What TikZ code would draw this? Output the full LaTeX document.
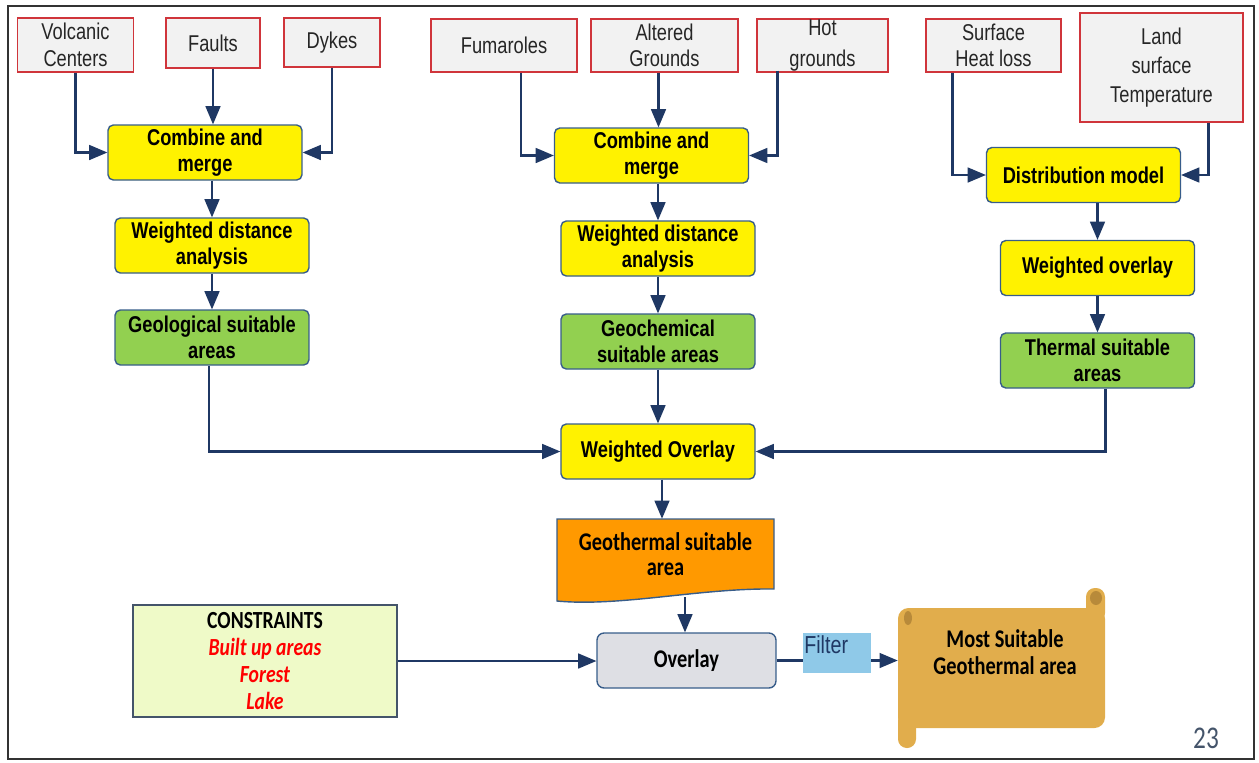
\documentclass[tikz,border=0pt]{standalone}
\usepackage{fontspec}
\setmainfont{Liberation Sans}[FakeStretch=0.8]
\newfontfamily\calib{Carlito}[FakeStretch=0.8]
\usetikzlibrary{arrows,positioning,calc}
\definecolor{navy}{HTML}{1F3864}
\definecolor{boxred}{HTML}{D0353B}
\definecolor{boxgray}{HTML}{F2F2F2}
\definecolor{edgeblue}{HTML}{385D8A}
\definecolor{leafgreen}{HTML}{92D050}
\definecolor{orangec}{HTML}{FF9900}
\definecolor{ovgray}{HTML}{DEDFE4}
\definecolor{consfill}{HTML}{EFFAC8}
\definecolor{slate}{HTML}{44546A}
\definecolor{filterblue}{HTML}{8FC9E8}
\definecolor{scrollc}{HTML}{E1AD4C}
\definecolor{scrolldark}{HTML}{B88A3A}

\begin{document}
\begin{tikzpicture}[x=0.02cm,y=-0.02cm,
  inbox/.style={draw=boxred, fill=boxgray, line width=0.8pt, align=center, inner sep=0pt,
    text=black!85, font=\fontsize{13}{15}\selectfont},
  ybox/.style={draw=edgeblue, fill=yellow, rounded corners=3pt, line width=0.8pt, align=center,
    inner sep=0pt, minimum width=3.88cm, minimum height=1.1cm, font=\fontsize{13}{15}\selectfont\bfseries},
  gbox/.style={ybox, fill=leafgreen},
  flow/.style={navy, line width=1.4pt, -triangle 45},
  wire/.style={navy, line width=1.4pt}]
\useasboundingbox (0,0) rectangle (1259,762);
\draw[line width=1.2pt, black!80] (8,6) rectangle (1254,759);

% input layers
\node[inbox, minimum width=2.32cm, minimum height=1.08cm] (vc) at (75.5,45) {Volcanic\\Centers};
\node[inbox, minimum width=1.88cm, minimum height=1cm] (faults) at (213,43) {Faults};
\node[inbox, minimum width=1.92cm, minimum height=0.98cm] (dyk) at (332,42.5) {Dykes};
\node[inbox, minimum width=2.92cm, minimum height=1.06cm] (fum) at (504,45.5) {Fumaroles};
\node[inbox, minimum width=2.94cm, minimum height=1.06cm] (alt) at (664.5,45.5) {Altered\\Grounds};
\node[inbox, minimum width=2.62cm, minimum height=1.06cm, font=\fontsize{13}{17.5}\selectfont] (hot) at (822.5,45.5) {Hot\\grounds};
\node[inbox, minimum width=2.7cm, minimum height=1.06cm] (shl) at (993.5,45.5) {Surface\\Heat loss};
\node[inbox, minimum width=3.26cm, minimum height=2.18cm, font=\fontsize{13}{16.5}\selectfont] (lst) at (1161.5,67.5) {Land\\surface\\Temperature};

% processing chains
\node[ybox] (c1) at (205,152.5) {Combine and\\merge};
\node[ybox] (w1) at (212,245.5) {Weighted distance\\analysis};
\node[gbox] (g1) at (212,337.5) {Geological suitable\\areas};

\node[ybox] (c2) at (651.5,155.5) {Combine and\\merge};
\node[ybox] (w2) at (658,248.5) {Weighted distance\\analysis};
\node[gbox] (g2) at (658,341.5) {Geochemical\\suitable areas};

\node[ybox] (dist) at (1083.5,175) {Distribution model};
\node[ybox] (wo3) at (1097.5,268) {Weighted overlay};
\node[gbox] (g3) at (1097.5,360.5) {Thermal suitable\\areas};

\node[ybox] (wo) at (658,451.5) {Weighted Overlay};

% document shape
\filldraw[draw=edgeblue, fill=orangec, line width=0.8pt] (557,519) -- (774,519) -- (774,589)
  .. controls (700,588) and (620,607) .. (557,601) -- cycle;
\node[align=center, inner sep=0pt, minimum width=4.34cm, minimum height=1.4cm,
  font=\calib\fontsize{14.5}{14.5}\selectfont\bfseries] (geo) at (665.5,554) {Geothermal suitable\\area};
\coordinate (geobot) at (685,597);

\node[draw=edgeblue, fill=ovgray, rounded corners=4pt, line width=0.8pt, inner sep=0pt,
  minimum width=3.58cm, minimum height=1.1cm, font=\calib\fontsize{14.5}{15}\selectfont\bfseries] (ov) at (686.5,660.5) {Overlay};

\node[draw=slate, fill=consfill, line width=0.8pt, align=center, inner sep=0pt,
  minimum width=5.28cm, minimum height=2.24cm, font=\calib\fontsize{14}{15.3}\selectfont\bfseries] (cons) at (265,661)
  {CONSTRAINTS\\{\color{red}\itshape Built up areas}\\{\color{red}\itshape Forest}\\{\color{red}\itshape Lake}};

\node[fill=filterblue, inner sep=0pt, minimum width=1.36cm, minimum height=0.8cm] (filt) at (837,653) {};
\node[anchor=base west, inner sep=0pt, text=navy, font=\fontsize{14}{14}\selectfont] (filttxt) at (804,653) {Filter};

% scroll
\fill[scrollc, rounded corners=6pt] (898,608) rectangle (1105,728);
\fill[scrollc, rounded corners=5pt] (1086,588) rectangle (1105,622);
\fill[scrollc, rounded corners=5pt] (898,712) rectangle (916,748);
\fill[scrolldark] (908,618) ellipse [x radius=4, y radius=7];
\fill[scrolldark] (1096,598) ellipse [x radius=6, y radius=7];
\node[inner sep=0pt, minimum width=4.14cm, minimum height=2.4cm] (scr) at (1001.5,668) {};
\node[align=center, inner sep=0pt, font=\calib\fontsize{14.5}{15}\selectfont\bfseries] (scrtxt) at (1005,652)
  {Most Suitable\\Geothermal area};

\node[text=slate, font=\calib\fontsize{18}{18}\selectfont] (pg) at (1206,738) {23};

% connectors
\coordinate (altout) at ($(alt.south)+(-6,0)$);
\coordinate (woout) at ($(wo.south)+(4,0)$);

\draw[flow] (vc.south) |- (c1.west);
\draw[flow] (faults.south) -- (faults.south |- c1.north);
\draw[flow] (dyk.south) |- (c1.east);
\draw[flow] (c1.south -| w1.north) -- (w1.north);
\draw[flow] (w1) -- (g1);

\draw[flow] ($(fum.south)+(17,0)$) |- (c2.west);
\draw[flow] (altout) -- (altout |- c2.north);
\draw[flow] ($(hot.south west)+(21,-2)$) |- (c2.east);
\draw[flow] (c2.south -| w2.north) -- (w2.north);
\draw[flow] (w2) -- (g2);

\draw[flow] ($(shl.south west)+(27,0)$) |- (dist.west);
\draw[flow] ($(lst.south east)+(-35,0)$) |- (dist.east);
\draw[flow] (dist.south -| wo3.north) -- (wo3.north);
\draw[flow] (wo3) -- (g3);

\draw[flow] ($(g1.south)+(-3,0)$) |- (wo.west);
\draw[flow] (g2) -- (wo);
\draw[flow] ($(g3.south)+(8,0)$) |- (wo.east);
\draw[flow] (woout) -- (woout |- geo.north);
\draw[flow] (geobot) -- (geobot |- ov.north);
\draw[flow] (cons.east) -- (cons.east -| ov.west);
\draw[wire] (ov.east) -- (ov.east -| filt.west);
\draw[flow] (ov.east -| filt.east) -- (ov.east -| scr.west);
\end{tikzpicture}
\end{document}
